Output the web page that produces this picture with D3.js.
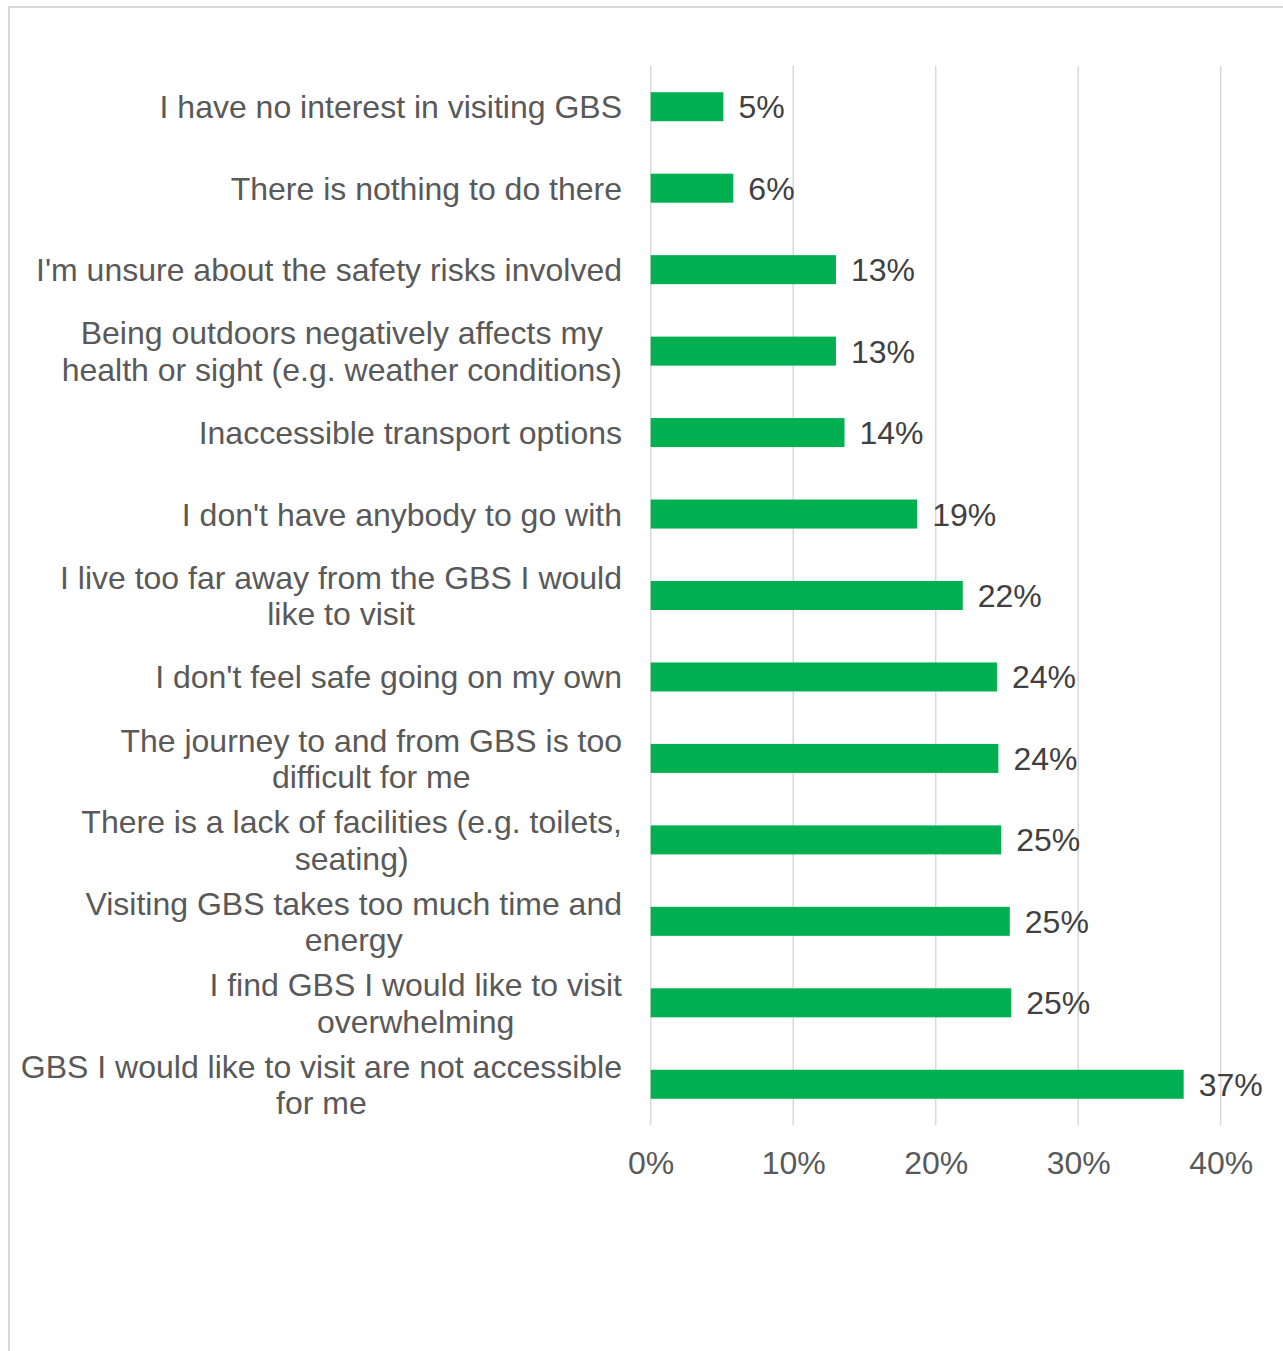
<!DOCTYPE html>
<html>
<head>
<meta charset="utf-8">
<script src="https://cdn.jsdelivr.net/npm/d3@7"></script>
<style>
  html, body { margin: 0; padding: 0; background: #ffffff; }
  svg { display: block; }
  text { font-family: "Liberation Sans", Arial, sans-serif; }
</style>
</head>
<body>
<svg id="chart" width="1283" height="1351"></svg>
<script>
// Reasons for not visiting GBS, top to bottom; "|" marks a line break
const categories = [
  "I have no interest in visiting GBS",
  "There is nothing to do there",
  "I'm unsure about the safety risks involved",
  "Being outdoors negatively affects my|health or sight (e.g. weather conditions)",
  "Inaccessible transport options",
  "I don't have anybody to go with",
  "I live too far away from the GBS I would|like to visit",
  "I don't feel safe going on my own",
  "The journey to and from GBS is too|difficult for me",
  "There is a lack of facilities (e.g. toilets,|seating)",
  "Visiting GBS takes too much time and|energy",
  "I find GBS I would like to visit|overwhelming",
  "GBS I would like to visit are not accessible|for me"
];
// Share of respondents (fraction)
const values = [0.051, 0.058, 0.130, 0.130, 0.136, 0.187, 0.219, 0.243, 0.244, 0.246, 0.252, 0.253, 0.374];
const xTicks = [0, 0.1, 0.2, 0.3, 0.4];

const svg = d3.select("#chart");
const fontSize = 32;
const barColor = "#00b050";
const gridColor = "#d9d9d9";
const labelColor = "#595959";
const valueColor = "#404040";

// Outer frame
svg.append("rect")
  .attr("x", 9).attr("y", 7)
  .attr("width", 1400).attr("height", 1500)
  .attr("fill", "#ffffff")
  .attr("stroke", gridColor).attr("stroke-width", 2);

const plot = { left: 650.7, right: 1220.7, top: 66, bottom: 1125 };

const x = d3.scaleLinear().domain([0, 0.4]).range([plot.left, plot.right]);
const y = d3.scaleBand().domain(d3.range(categories.length))
  .range([plot.top, plot.bottom]).paddingInner(0.644).paddingOuter(0.322);

// Vertical gridlines
svg.append("g").selectAll("line").data(xTicks).join("line")
  .attr("x1", d => x(d)).attr("x2", d => x(d))
  .attr("y1", plot.top).attr("y2", plot.bottom)
  .attr("stroke", gridColor).attr("stroke-width", 1.5);

// X axis tick labels
const fmt = d3.format(".0%");
const xAxis = d3.axisBottom(x).tickValues(xTicks).tickFormat(fmt).tickSize(0).tickPadding(0);
const gx = svg.append("g").attr("transform", `translate(0,${plot.bottom})`).call(xAxis);
gx.select(".domain").remove();
gx.selectAll("text")
  .attr("y", 49).attr("dy", null)
  .attr("font-size", fontSize)
  .attr("font-family", "'Liberation Sans', Arial, sans-serif")
  .attr("fill", labelColor);

// Bars
svg.append("g").selectAll("rect").data(values).join("rect")
  .attr("x", x(0))
  .attr("y", (d, i) => y(i))
  .attr("width", d => x(d) - x(0))
  .attr("height", y.bandwidth())
  .attr("fill", barColor);

// Value labels
svg.append("g").selectAll("text").data(values).join("text")
  .attr("x", d => x(d) + 15)
  .attr("y", (d, i) => y(i) + y.bandwidth() / 2)
  .attr("dy", "0.36em")
  .attr("font-size", fontSize)
  .attr("fill", valueColor)
  .text(d => fmt(d));

// Category labels: block right-aligned, lines centred within the block
const labelRight = 622;
const lineHeight = 36.5;
const catG = svg.append("g");
categories.forEach((c, i) => {
  const lines = c.split("|");
  const cy = y(i) + y.bandwidth() / 2;
  const t = catG.append("text")
    .attr("font-size", fontSize)
    .attr("fill", labelColor)
    .attr("text-anchor", "middle");
  const spans = lines.map((ln, k) => t.append("tspan")
    .attr("y", cy + (k - (lines.length - 1) / 2) * lineHeight)
    .attr("dy", "0.36em")
    .text(ln));
  const maxW = d3.max(spans, s => s.node().getComputedTextLength());
  spans.forEach(s => s.attr("x", labelRight - maxW / 2));
});
</script>
</body>
</html>
